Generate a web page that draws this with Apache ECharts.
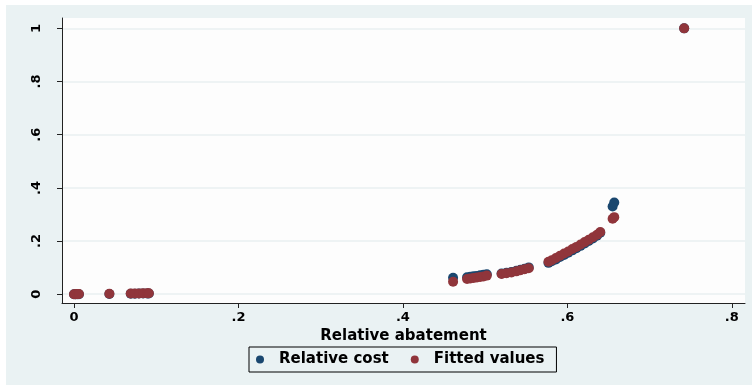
<!DOCTYPE html>
<html>
<head>
<meta charset="utf-8">
<script src="https://cdn.jsdelivr.net/npm/echarts@6/dist/echarts.min.js"></script>
<style>
  html, body { margin: 0; padding: 0; background: #ffffff; }
  #frame { position: absolute; left: 6px; top: 5px; width: 746px; height: 380px; background: #eaf2f3; }
  #chart { position: absolute; left: 0; top: 0; width: 752px; height: 385px; }
</style>
</head>
<body>
<div id="frame"></div>
<div id="chart"></div>
<script>
// Relative abatement (x) shared by both series
const abatement = [
  0.000, 0.002, 0.004, 0.006, 0.043, 0.069, 0.074, 0.079, 0.084, 0.089, 0.091,
  0.461, 0.478, 0.482, 0.486, 0.490, 0.494, 0.498, 0.502, 0.520, 0.526, 0.532, 0.538, 0.543, 0.548, 0.553,
  0.577, 0.581, 0.586, 0.591, 0.596, 0.601, 0.606, 0.611, 0.616, 0.621, 0.626, 0.631, 0.636, 0.640, 0.655, 0.657, 0.742
];
// Observed relative cost
const relativeCost = [
  0.000, 0.000, 0.000, 0.000, 0.001, 0.002, 0.002, 0.003, 0.003, 0.003, 0.003,
  0.062, 0.064, 0.066, 0.068, 0.069, 0.071, 0.073, 0.075, 0.078, 0.081, 0.084, 0.088, 0.092, 0.096, 0.101,
  0.118, 0.124, 0.131, 0.140, 0.148, 0.156, 0.165, 0.173, 0.182, 0.191, 0.200, 0.210, 0.220, 0.231, 0.330, 0.345, 1.000
];
// Fitted values
const fittedValues = [
  0.000, 0.000, 0.001, 0.001, 0.002, 0.003, 0.003, 0.003, 0.004, 0.004, 0.004,
  0.047, 0.057, 0.059, 0.061, 0.063, 0.065, 0.067, 0.070, 0.076, 0.079, 0.082, 0.086, 0.090, 0.094, 0.098,
  0.122, 0.128, 0.136, 0.145, 0.153, 0.161, 0.170, 0.178, 0.187, 0.196, 0.205, 0.214, 0.224, 0.234, 0.284, 0.290, 1.000
];
const xTicks = [0, 0.2, 0.4, 0.6, 0.8];
const yTicks = [0, 0.2, 0.4, 0.6, 0.8, 1];
const seriesNames = ['Relative cost', 'Fitted values'];

// Stata-style labels: ".2" instead of "0.2"
const fmt = v => (v === 0 ? '0' : (v === 1 ? '1' : String(v).replace(/^0/, '')));

const pairs = ys => abatement.map((x, i) => [x, ys[i]]);
const FONT = 'DejaVu Sans';

const chart = echarts.init(document.getElementById('chart'), null, { renderer: 'canvas' });
chart.setOption({
  backgroundColor: 'transparent',
  animation: false,
  grid: {
    left: 62, right: 7, top: 18, bottom: 82,
    show: true, backgroundColor: '#fdfdfd', borderWidth: 0
  },
  legend: {
    data: seriesNames,
    left: 249, top: 347,
    orient: 'horizontal',
    padding: [5, 12, 5, 7],
    itemGap: 22,
    itemWidth: 8, itemHeight: 8,
    icon: 'circle',
    borderColor: '#000', borderWidth: 1,
    textStyle: { fontFamily: FONT, fontWeight: 'bold', fontSize: 15, color: '#000', padding: [0, 0, 0, 10] }
  },
  xAxis: {
    type: 'value',
    min: -0.0146, max: 0.816,
    name: 'Relative abatement',
    nameLocation: 'middle',
    nameGap: 23,
    nameTextStyle: { fontFamily: FONT, fontWeight: 'bold', fontSize: 15, color: '#000' },
    axisLine: { onZero: false, lineStyle: { color: '#222', width: 1 } },
    axisTick: { show: true, length: 5, customValues: xTicks, lineStyle: { color: '#222' } },
    axisLabel: { customValues: xTicks, formatter: fmt, margin: 8, fontFamily: FONT, fontWeight: 'bold', fontSize: 13, color: '#000' },
    splitLine: { show: false }
  },
  yAxis: {
    type: 'value',
    min: -0.033, max: 1.039,
    axisLine: { show: true, onZero: false, lineStyle: { color: '#222', width: 1 } },
    axisTick: { show: true, length: 5, customValues: yTicks, lineStyle: { color: '#222' } },
    axisLabel: { customValues: yTicks, formatter: fmt, rotate: 90, margin: 19, fontFamily: FONT, fontWeight: 'bold', fontSize: 13, color: '#000' },
    splitLine: { show: true, lineStyle: { color: '#e8eff1', width: 1.5 } }
  },
  series: [
    {
      name: seriesNames[0], type: 'scatter', data: pairs(relativeCost),
      symbol: 'circle', symbolSize: 10,
      itemStyle: { color: '#1a476f', opacity: 1 }
    },
    {
      name: seriesNames[1], type: 'scatter', data: pairs(fittedValues),
      symbol: 'circle', symbolSize: 10,
      itemStyle: { color: '#90353b', opacity: 1 }
    }
  ]
});
</script>
</body>
</html>
